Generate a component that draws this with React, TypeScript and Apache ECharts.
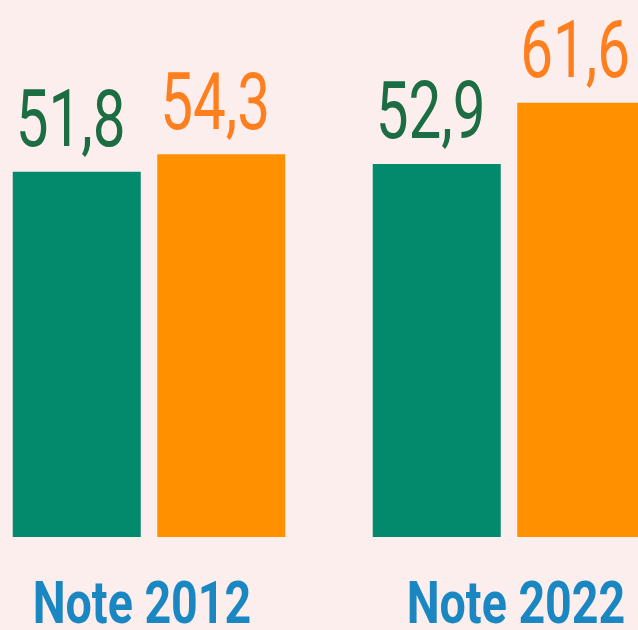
import React, { useEffect, useRef } from "react";
import * as echarts from "echarts";

const categories = ["Note 2012", "Note 2022"];
const seriesGreen = [51.8, 52.9];
const seriesOrange = [54.3, 61.6];

const BAR_W = 128;
const BAR_GAP = 16.5;
const GREEN = "#03896b";
const ORANGE = "#ff9000";
const GREEN_TXT = "#1c6d44";
const ORANGE_TXT = "#ff7f1e";
const BLUE_TXT = "#1a87c2";

const fmt = (v: number) => String(v).replace(".", ",");

export default function App() {
  const ref = useRef<HTMLDivElement>(null);
  useEffect(() => {
    if (!ref.current) return;
    const chart = echarts.init(ref.current, undefined, { renderer: "svg" });
    const labelRows = categories.map((_, i) => [i, seriesGreen[i], seriesOrange[i]]);
    const valueFont = "400 80px Roboto";
    const catFont = "700 59px Roboto";
    const renderLabels = (params: any, api: any) => {
      const i = api.value(0);
      const g = api.value(1);
      const o = api.value(2);
      const [cx, y0] = api.coord([i, 0]);
      const pg = api.coord([i, g]);
      const po = api.coord([i, o]);
      const off = (BAR_W + BAR_GAP) / 2;
      const gLeft = cx - off - BAR_W / 2;
      const oLeft = cx + off - BAR_W / 2;
      const gap = 25;
      const capHalf = 28;
      const mk = (x: number, y: number, text: string, fill: string) => ({
        type: "text",
        x,
        y,
        scaleX: 0.73,
        style: {
          text,
          fill,
          font: valueFont,
          lineHeight: 64,
          align: "left",
          verticalAlign: "middle",
        },
      });
      return {
        type: "group",
        children: [
          mk(gLeft + 3, pg[1] - gap - capHalf, fmt(g), GREEN_TXT),
          mk(oLeft + 3, po[1] - gap - capHalf, fmt(o), ORANGE_TXT),
          {
            type: "text",
            x: cx + (i - 0.5) * 14,
            y: y0 + 66,
            scaleX: 0.79,
            style: {
              text: categories[params.dataIndex],
              fill: BLUE_TXT,
              font: catFont,
              lineHeight: 48,
              align: "center",
              verticalAlign: "middle",
            },
          },
        ],
      };
    };
    chart.setOption({
      animation: false,
      backgroundColor: "#fdeeee",
      grid: { left: 0, right: 0, top: 43.5, bottom: 93, containLabel: false },
      xAxis: {
        type: "category",
        data: categories,
        axisLine: { show: false },
        axisTick: { show: false },
        axisLabel: { show: false },
      },
      yAxis: {
        type: "value",
        min: 0,
        max: 70,
        show: false,
        splitLine: { show: false },
      },
      series: [
        {
          type: "bar",
          data: seriesGreen,
          barWidth: BAR_W,
          barGap: (BAR_GAP / BAR_W) * 100 + "%",
          itemStyle: { color: GREEN },
        },
        {
          type: "bar",
          data: seriesOrange,
          barWidth: BAR_W,
          barGap: (BAR_GAP / BAR_W) * 100 + "%",
          itemStyle: { color: ORANGE },
        },
        {
          type: "custom",
          data: labelRows,
          clip: false,
          z: 10,
          encode: { x: 0, y: 1 },
          renderItem: renderLabels,
        },
      ],
    });
    return () => chart.dispose();
  }, []);
  return (
    <div
      style={{
        position: "fixed",
        left: 0,
        top: 0,
        width: 638,
        height: 630,
        overflow: "hidden",
        background: "#fdeeee",
      }}
    >
      <div ref={ref} style={{ position: "absolute", left: -31, top: 0, width: 720, height: 630 }} />
    </div>
  );
}
